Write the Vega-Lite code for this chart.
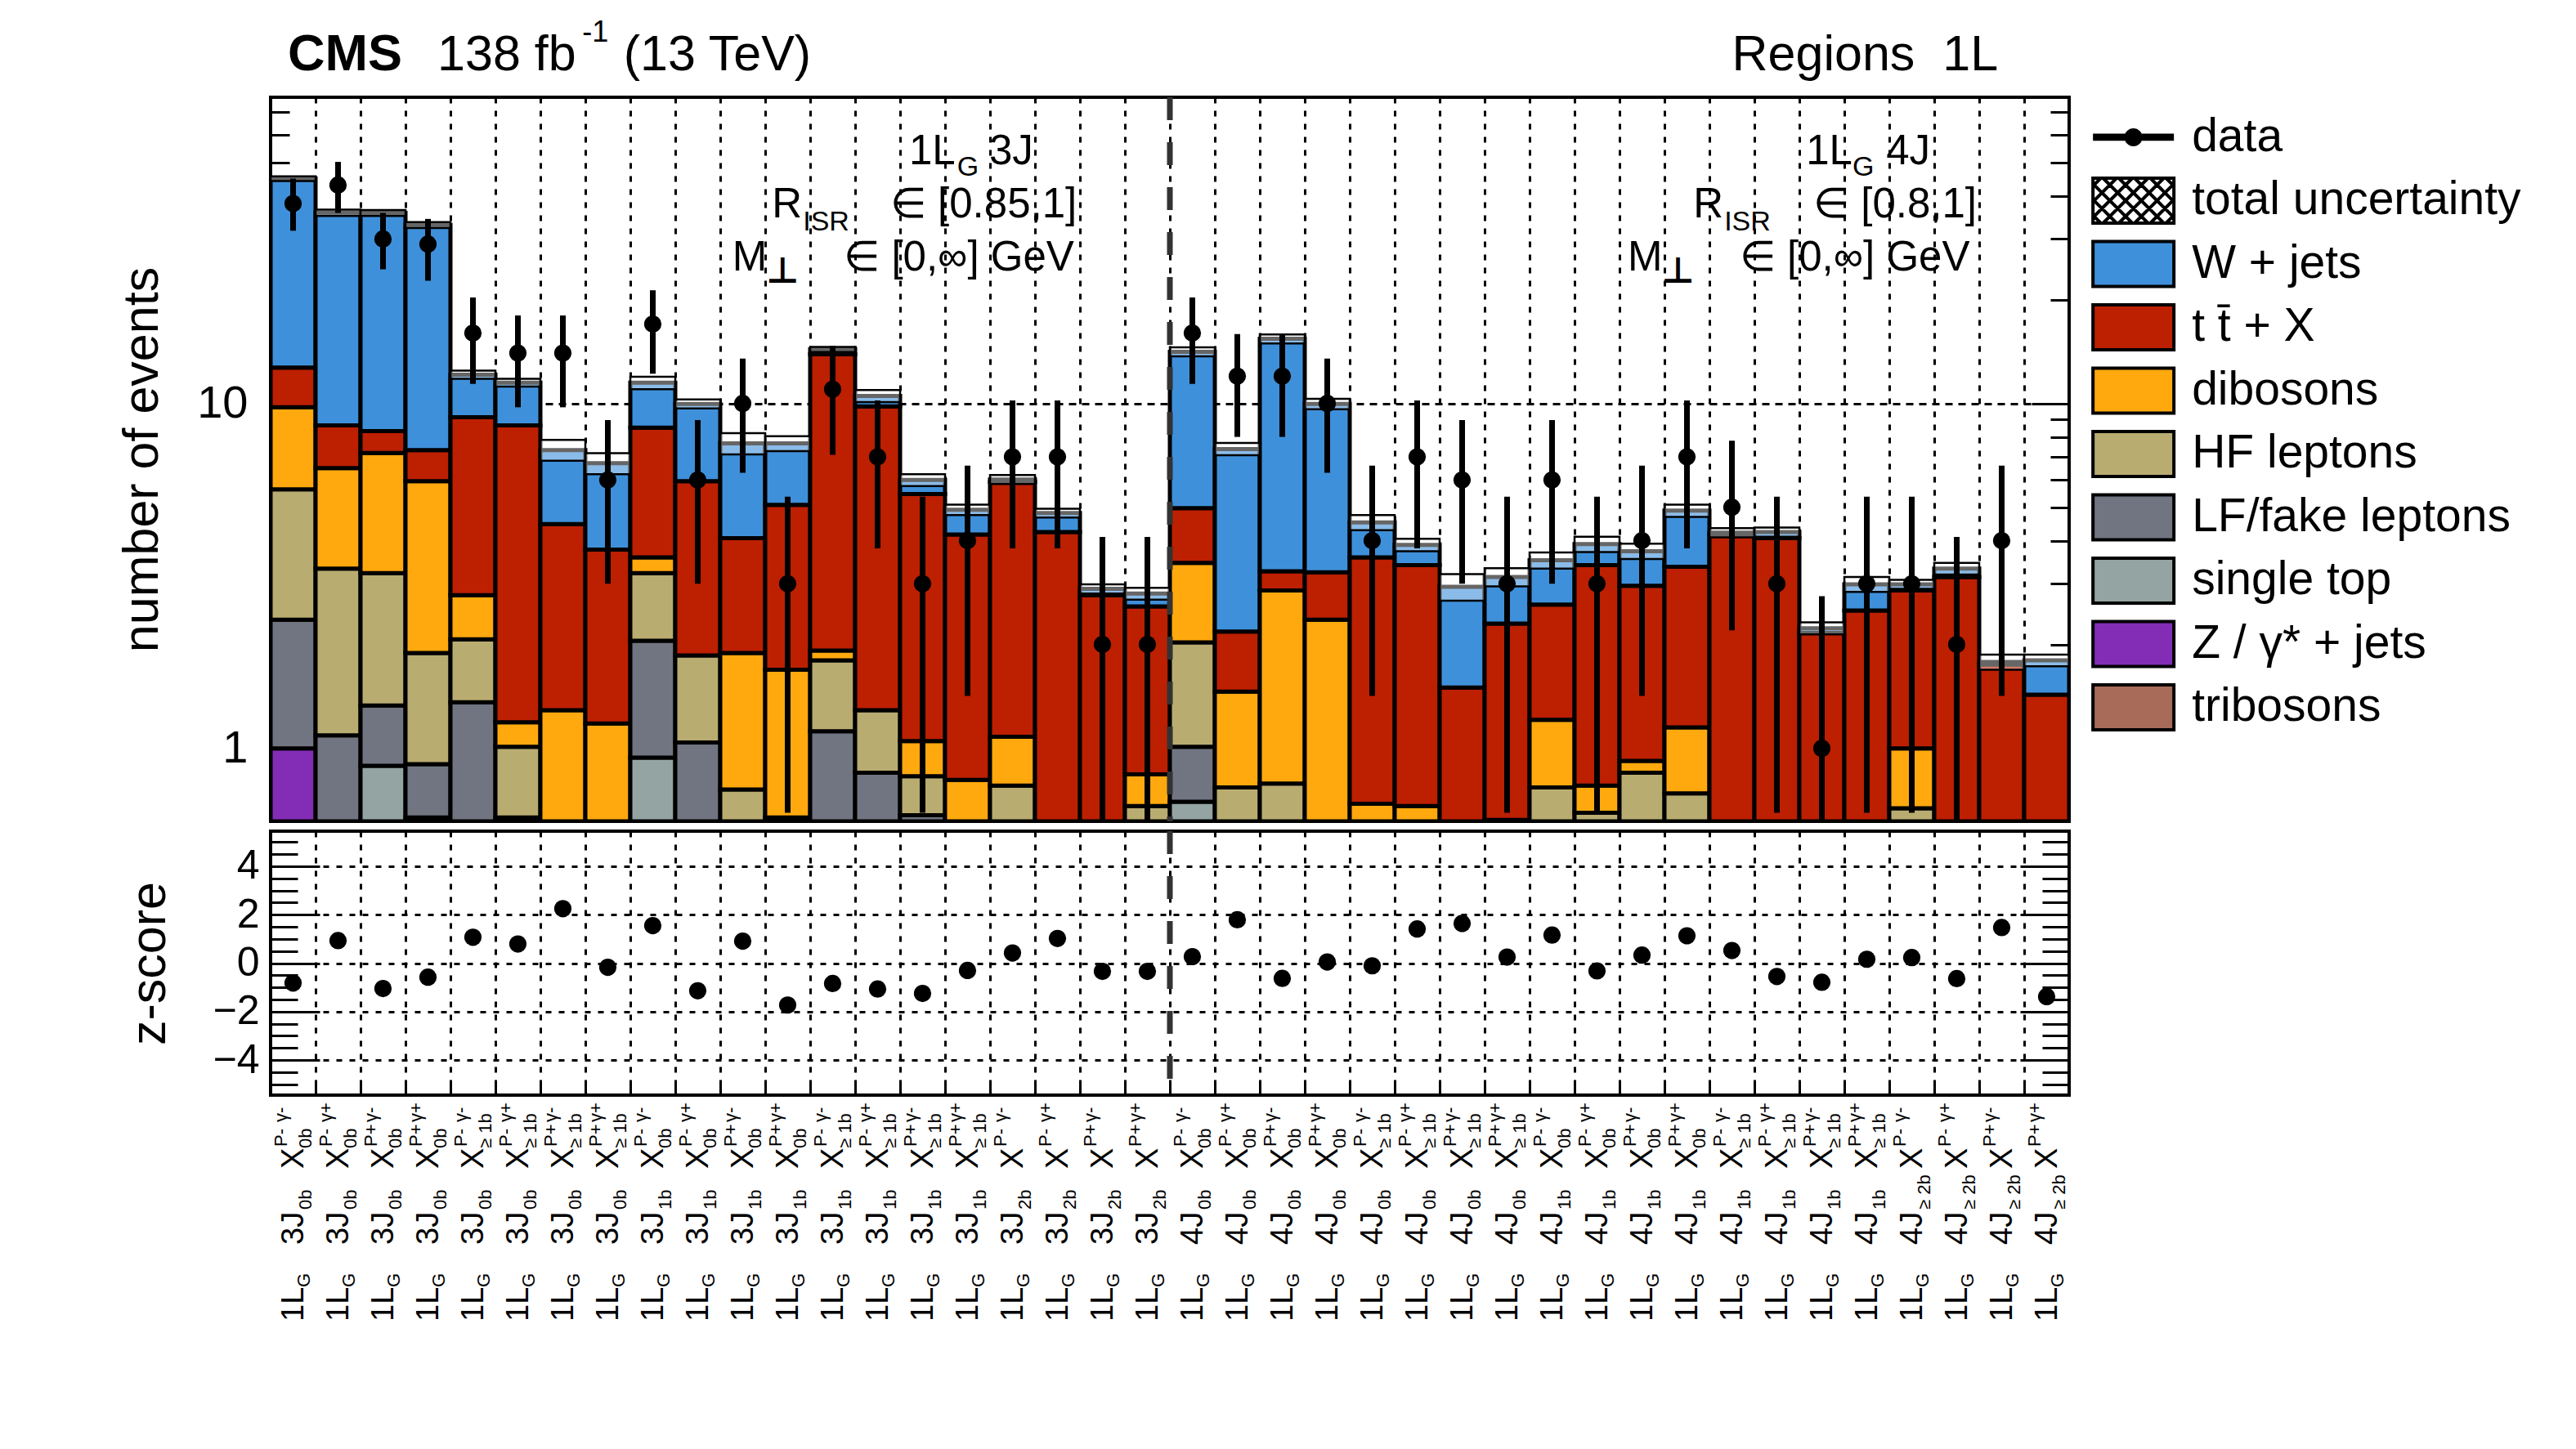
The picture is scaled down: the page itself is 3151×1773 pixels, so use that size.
{
  "$schema": "https://vega.github.io/schema/vega-lite/v6.json",
  "background": "white",
  "padding": {"left": 141, "top": 20, "right": 10, "bottom": 10},
  "datasets": {
    "procs": [
      {"p": "tribosons", "k": 0},
      {"p": "Z / γ* + jets", "k": 1},
      {"p": "single top", "k": 2},
      {"p": "LF/fake leptons", "k": 3},
      {"p": "HF leptons", "k": 4},
      {"p": "dibosons", "k": 5},
      {"p": "t t̄ + X", "k": 6},
      {"p": "W + jets", "k": 7}
    ],
    "leg": [
      {"lab": "data"}, {"lab": "total uncertainty"}, {"lab": "W + jets"}, {"lab": "t t̄ + X"}, {"lab": "dibosons"},
      {"lab": "HF leptons"}, {"lab": "LF/fake leptons"}, {"lab": "single top"}, {"lab": "Z / γ* + jets"}, {"lab": "tribosons"}
    ],
    "bkg": [
      {"b": 1, "p": "Z / γ* + jets", "v": 1.0}, {"b": 1, "p": "LF/fake leptons", "v": 1.36}, {"b": 1, "p": "HF leptons", "v": 3.28}, {"b": 1, "p": "dibosons", "v": 4.11}, {"b": 1, "p": "t t̄ + X", "v": 2.97}, {"b": 1, "p": "W + jets", "v": 32.2},
      {"b": 2, "p": "LF/fake leptons", "v": 1.09}, {"b": 2, "p": "HF leptons", "v": 2.23}, {"b": 2, "p": "dibosons", "v": 3.18}, {"b": 2, "p": "t t̄ + X", "v": 2.14}, {"b": 2, "p": "W + jets", "v": 27.1},
      {"b": 3, "p": "single top", "v": 0.89}, {"b": 3, "p": "LF/fake leptons", "v": 0.44}, {"b": 3, "p": "HF leptons", "v": 1.89}, {"b": 3, "p": "dibosons", "v": 3.97}, {"b": 3, "p": "t t̄ + X", "v": 1.13}, {"b": 3, "p": "W + jets", "v": 27.4},
      {"b": 4, "p": "single top", "v": 0.63}, {"b": 4, "p": "LF/fake leptons", "v": 0.27}, {"b": 4, "p": "HF leptons", "v": 0.99}, {"b": 4, "p": "dibosons", "v": 4.06}, {"b": 4, "p": "t t̄ + X", "v": 1.38}, {"b": 4, "p": "W + jets", "v": 25.6},
      {"b": 5, "p": "LF/fake leptons", "v": 1.36}, {"b": 5, "p": "HF leptons", "v": 0.71}, {"b": 5, "p": "dibosons", "v": 0.71}, {"b": 5, "p": "t t̄ + X", "v": 6.34}, {"b": 5, "p": "W + jets", "v": 3.0},
      {"b": 6, "p": "LF/fake leptons", "v": 0.63}, {"b": 6, "p": "HF leptons", "v": 0.38}, {"b": 6, "p": "dibosons", "v": 0.18}, {"b": 6, "p": "t t̄ + X", "v": 7.45}, {"b": 6, "p": "W + jets", "v": 2.85},
      {"b": 7, "p": "dibosons", "v": 1.29}, {"b": 7, "p": "t t̄ + X", "v": 3.18}, {"b": 7, "p": "W + jets", "v": 2.86},
      {"b": 8, "p": "dibosons", "v": 1.18}, {"b": 8, "p": "t t̄ + X", "v": 2.59}, {"b": 8, "p": "W + jets", "v": 2.94},
      {"b": 9, "p": "single top", "v": 0.94}, {"b": 9, "p": "LF/fake leptons", "v": 1.11}, {"b": 9, "p": "HF leptons", "v": 1.17}, {"b": 9, "p": "dibosons", "v": 0.36}, {"b": 9, "p": "t t̄ + X", "v": 4.93}, {"b": 9, "p": "W + jets", "v": 2.98},
      {"b": 10, "p": "LF/fake leptons", "v": 1.04}, {"b": 10, "p": "HF leptons", "v": 0.82}, {"b": 10, "p": "t t̄ + X", "v": 4.09}, {"b": 10, "p": "W + jets", "v": 4.02},
      {"b": 11, "p": "HF leptons", "v": 0.76}, {"b": 11, "p": "dibosons", "v": 1.13}, {"b": 11, "p": "t t̄ + X", "v": 2.18}, {"b": 11, "p": "W + jets", "v": 3.59},
      {"b": 12, "p": "HF leptons", "v": 0.63}, {"b": 12, "p": "dibosons", "v": 1.06}, {"b": 12, "p": "t t̄ + X", "v": 3.39}, {"b": 12, "p": "W + jets", "v": 2.58},
      {"b": 13, "p": "LF/fake leptons", "v": 1.12}, {"b": 13, "p": "HF leptons", "v": 0.68}, {"b": 13, "p": "dibosons", "v": 0.12}, {"b": 13, "p": "t t̄ + X", "v": 11.98}, {"b": 13, "p": "W + jets", "v": 0.45},
      {"b": 14, "p": "LF/fake leptons", "v": 0.85}, {"b": 14, "p": "HF leptons", "v": 0.44}, {"b": 14, "p": "t t̄ + X", "v": 8.52}, {"b": 14, "p": "W + jets", "v": 0.71},
      {"b": 15, "p": "LF/fake leptons", "v": 0.64}, {"b": 15, "p": "HF leptons", "v": 0.19}, {"b": 15, "p": "dibosons", "v": 0.22}, {"b": 15, "p": "t t̄ + X", "v": 4.41}, {"b": 15, "p": "W + jets", "v": 0.54},
      {"b": 16, "p": "dibosons", "v": 0.81}, {"b": 16, "p": "t t̄ + X", "v": 3.36}, {"b": 16, "p": "W + jets", "v": 0.75},
      {"b": 17, "p": "HF leptons", "v": 0.78}, {"b": 17, "p": "dibosons", "v": 0.30}, {"b": 17, "p": "t t̄ + X", "v": 4.84}, {"b": 17, "p": "W + jets", "v": 0.10},
      {"b": 18, "p": "t t̄ + X", "v": 4.24}, {"b": 18, "p": "W + jets", "v": 0.57},
      {"b": 19, "p": "t t̄ + X", "v": 2.78}, {"b": 19, "p": "W + jets", "v": 0.12},
      {"b": 20, "p": "HF leptons", "v": 0.68}, {"b": 20, "p": "dibosons", "v": 0.16}, {"b": 20, "p": "t t̄ + X", "v": 1.74}, {"b": 20, "p": "W + jets", "v": 0.23},
      {"b": 21, "p": "single top", "v": 0.70}, {"b": 21, "p": "LF/fake leptons", "v": 0.31}, {"b": 21, "p": "HF leptons", "v": 1.02}, {"b": 21, "p": "dibosons", "v": 1.42}, {"b": 21, "p": "t t̄ + X", "v": 1.52}, {"b": 21, "p": "W + jets", "v": 9.16},
      {"b": 22, "p": "HF leptons", "v": 0.77}, {"b": 22, "p": "dibosons", "v": 0.69}, {"b": 22, "p": "t t̄ + X", "v": 0.72}, {"b": 22, "p": "W + jets", "v": 5.2},
      {"b": 23, "p": "HF leptons", "v": 0.79}, {"b": 23, "p": "dibosons", "v": 2.08}, {"b": 23, "p": "t t̄ + X", "v": 0.39}, {"b": 23, "p": "W + jets", "v": 12.14},
      {"b": 24, "p": "dibosons", "v": 2.36}, {"b": 24, "p": "t t̄ + X", "v": 0.88}, {"b": 24, "p": "W + jets", "v": 6.73},
      {"b": 25, "p": "dibosons", "v": 0.69}, {"b": 25, "p": "t t̄ + X", "v": 2.89}, {"b": 25, "p": "W + jets", "v": 0.94},
      {"b": 26, "p": "dibosons", "v": 0.68}, {"b": 26, "p": "t t̄ + X", "v": 2.72}, {"b": 26, "p": "W + jets", "v": 0.49},
      {"b": 27, "p": "t t̄ + X", "v": 1.50}, {"b": 27, "p": "W + jets", "v": 1.44},
      {"b": 28, "p": "dibosons", "v": 0.62}, {"b": 28, "p": "t t̄ + X", "v": 1.68}, {"b": 28, "p": "W + jets", "v": 0.84},
      {"b": 29, "p": "HF leptons", "v": 0.77}, {"b": 29, "p": "dibosons", "v": 0.44}, {"b": 29, "p": "t t̄ + X", "v": 1.40}, {"b": 29, "p": "W + jets", "v": 0.90},
      {"b": 30, "p": "HF leptons", "v": 0.65}, {"b": 30, "p": "dibosons", "v": 0.13}, {"b": 30, "p": "t t̄ + X", "v": 2.62}, {"b": 30, "p": "W + jets", "v": 0.51},
      {"b": 31, "p": "HF leptons", "v": 0.85}, {"b": 31, "p": "dibosons", "v": 0.07}, {"b": 31, "p": "t t̄ + X", "v": 2.04}, {"b": 31, "p": "W + jets", "v": 0.77},
      {"b": 32, "p": "HF leptons", "v": 0.74}, {"b": 32, "p": "dibosons", "v": 0.41}, {"b": 32, "p": "t t̄ + X", "v": 2.21}, {"b": 32, "p": "W + jets", "v": 1.53},
      {"b": 33, "p": "t t̄ + X", "v": 4.17}, {"b": 33, "p": "W + jets", "v": 0.05},
      {"b": 34, "p": "t t̄ + X", "v": 4.07}, {"b": 34, "p": "W + jets", "v": 0.17},
      {"b": 35, "p": "t t̄ + X", "v": 2.16}, {"b": 35, "p": "W + jets", "v": 0.07},
      {"b": 36, "p": "t t̄ + X", "v": 2.51}, {"b": 36, "p": "W + jets", "v": 0.48},
      {"b": 37, "p": "HF leptons", "v": 0.67}, {"b": 37, "p": "dibosons", "v": 0.33}, {"b": 37, "p": "t t̄ + X", "v": 1.87}, {"b": 37, "p": "W + jets", "v": 0.12},
      {"b": 38, "p": "t t̄ + X", "v": 3.14}, {"b": 38, "p": "W + jets", "v": 0.18},
      {"b": 39, "p": "t t̄ + X", "v": 1.75}, {"b": 39, "p": "W + jets", "v": 0.03},
      {"b": 40, "p": "t t̄ + X", "v": 1.43}, {"b": 40, "p": "W + jets", "v": 0.37}
    ],
    "bins": [
      {"b": 1, "n": 38, "lo": 31.7, "hi": 44.9, "uLo": 44.2, "uHi": 45.6, "z": -0.82, "jet": "3J", "jb": "0b", "xb": "0b", "pp": "P-", "g": "γ-"},
      {"b": 2, "n": 43, "lo": 35.7, "hi": 50.2, "uLo": 35.0, "uHi": 36.5, "z": 0.93, "jet": "3J", "jb": "0b", "xb": "0b", "pp": "P-", "g": "γ+"},
      {"b": 3, "n": 30, "lo": 24.5, "hi": 35.7, "uLo": 35.0, "uHi": 36.4, "z": -1.05, "jet": "3J", "jb": "0b", "xb": "0b", "pp": "P+", "g": "γ-"},
      {"b": 4, "n": 29, "lo": 22.7, "hi": 34.3, "uLo": 32.3, "uHi": 33.6, "z": -0.58, "jet": "3J", "jb": "0b", "xb": "0b", "pp": "P+", "g": "γ+"},
      {"b": 5, "n": 16, "lo": 11.4, "hi": 20.3, "uLo": 11.8, "uHi": 12.45, "z": 1.07, "jet": "3J", "jb": "0b", "xb": "≥ 1b", "pp": "P-", "g": "γ-"},
      {"b": 6, "n": 14, "lo": 9.75, "hi": 18.0, "uLo": 11.2, "uHi": 11.8, "z": 0.79, "jet": "3J", "jb": "0b", "xb": "≥ 1b", "pp": "P-", "g": "γ+"},
      {"b": 7, "n": 14, "lo": 9.75, "hi": 18.0, "uLo": 6.82, "uHi": 7.84, "z": 2.25, "jet": "3J", "jb": "0b", "xb": "≥ 1b", "pp": "P+", "g": "γ-"},
      {"b": 8, "n": 6, "lo": 3.0, "hi": 8.95, "uLo": 6.24, "uHi": 7.18, "z": -0.17, "jet": "3J", "jb": "0b", "xb": "≥ 1b", "pp": "P+", "g": "γ+"},
      {"b": 9, "n": 17, "lo": 12.2, "hi": 21.3, "uLo": 11.0, "uHi": 11.95, "z": 1.55, "jet": "3J", "jb": "1b", "xb": "0b", "pp": "P-", "g": "γ-"},
      {"b": 10, "n": 6, "lo": 3.0, "hi": 8.95, "uLo": 9.67, "uHi": 10.27, "z": -1.14, "jet": "3J", "jb": "1b", "xb": "0b", "pp": "P-", "g": "γ+"},
      {"b": 11, "n": 10, "lo": 6.3, "hi": 13.5, "uLo": 7.12, "uHi": 8.2, "z": 0.91, "jet": "3J", "jb": "1b", "xb": "0b", "pp": "P+", "g": "γ-"},
      {"b": 12, "n": 3, "lo": 0.65, "hi": 5.37, "uLo": 7.28, "uHi": 8.04, "z": -1.73, "jet": "3J", "jb": "1b", "xb": "0b", "pp": "P+", "g": "γ+"},
      {"b": 13, "n": 11, "lo": 7.1, "hi": 14.7, "uLo": 14.1, "uHi": 14.6, "z": -0.84, "jet": "3J", "jb": "1b", "xb": "≥ 1b", "pp": "P-", "g": "γ-"},
      {"b": 14, "n": 7, "lo": 3.8, "hi": 10.2, "uLo": 10.1, "uHi": 10.94, "z": -1.07, "jet": "3J", "jb": "1b", "xb": "≥ 1b", "pp": "P-", "g": "γ+"},
      {"b": 15, "n": 3, "lo": 0.65, "hi": 5.37, "uLo": 5.76, "uHi": 6.24, "z": -1.25, "jet": "3J", "jb": "1b", "xb": "≥ 1b", "pp": "P+", "g": "γ-"},
      {"b": 16, "n": 4, "lo": 1.42, "hi": 6.6, "uLo": 4.75, "uHi": 5.09, "z": -0.30, "jet": "3J", "jb": "1b", "xb": "≥ 1b", "pp": "P+", "g": "γ+"},
      {"b": 17, "n": 7, "lo": 3.8, "hi": 10.2, "uLo": 5.84, "uHi": 6.2, "z": 0.42, "jet": "3J", "jb": "2b", "xb": "", "pp": "P-", "g": "γ-"},
      {"b": 18, "n": 7, "lo": 3.8, "hi": 10.2, "uLo": 4.67, "uHi": 4.95, "z": 1.02, "jet": "3J", "jb": "2b", "xb": "", "pp": "P-", "g": "γ+"},
      {"b": 19, "n": 2, "lo": 0.6, "hi": 4.1, "uLo": 2.81, "uHi": 2.99, "z": -0.34, "jet": "3J", "jb": "2b", "xb": "", "pp": "P+", "g": "γ-"},
      {"b": 20, "n": 2, "lo": 0.6, "hi": 4.1, "uLo": 2.70, "uHi": 2.92, "z": -0.34, "jet": "3J", "jb": "2b", "xb": "", "pp": "P+", "g": "γ+"},
      {"b": 21, "n": 16, "lo": 11.4, "hi": 20.3, "uLo": 13.7, "uHi": 14.55, "z": 0.27, "jet": "4J", "jb": "0b", "xb": "0b", "pp": "P-", "g": "γ-"},
      {"b": 22, "n": 12, "lo": 8.0, "hi": 15.9, "uLo": 7.08, "uHi": 7.68, "z": 1.79, "jet": "4J", "jb": "0b", "xb": "0b", "pp": "P-", "g": "γ+"},
      {"b": 23, "n": 12, "lo": 8.0, "hi": 15.9, "uLo": 14.94, "uHi": 15.86, "z": -0.63, "jet": "4J", "jb": "0b", "xb": "0b", "pp": "P+", "g": "γ-"},
      {"b": 24, "n": 10, "lo": 6.3, "hi": 13.5, "uLo": 9.62, "uHi": 10.32, "z": 0.05, "jet": "4J", "jb": "0b", "xb": "0b", "pp": "P+", "g": "γ+"},
      {"b": 25, "n": 4, "lo": 1.42, "hi": 6.6, "uLo": 4.29, "uHi": 4.75, "z": -0.11, "jet": "4J", "jb": "0b", "xb": "≥ 1b", "pp": "P-", "g": "γ-"},
      {"b": 26, "n": 7, "lo": 3.8, "hi": 10.2, "uLo": 3.73, "uHi": 4.05, "z": 1.41, "jet": "4J", "jb": "0b", "xb": "≥ 1b", "pp": "P-", "g": "γ+"},
      {"b": 27, "n": 6, "lo": 3.0, "hi": 8.95, "uLo": 2.68, "uHi": 3.2, "z": 1.64, "jet": "4J", "jb": "0b", "xb": "≥ 1b", "pp": "P+", "g": "γ-"},
      {"b": 28, "n": 3, "lo": 0.65, "hi": 5.37, "uLo": 2.95, "uHi": 3.33, "z": 0.25, "jet": "4J", "jb": "0b", "xb": "≥ 1b", "pp": "P+", "g": "γ+"},
      {"b": 29, "n": 6, "lo": 3.0, "hi": 8.95, "uLo": 3.32, "uHi": 3.7, "z": 1.16, "jet": "4J", "jb": "1b", "xb": "0b", "pp": "P-", "g": "γ-"},
      {"b": 30, "n": 3, "lo": 0.65, "hi": 5.37, "uLo": 3.71, "uHi": 4.11, "z": -0.32, "jet": "4J", "jb": "1b", "xb": "0b", "pp": "P-", "g": "γ+"},
      {"b": 31, "n": 4, "lo": 1.42, "hi": 6.6, "uLo": 3.54, "uHi": 3.92, "z": 0.33, "jet": "4J", "jb": "1b", "xb": "0b", "pp": "P+", "g": "γ-"},
      {"b": 32, "n": 7, "lo": 3.8, "hi": 10.2, "uLo": 4.69, "uHi": 5.09, "z": 1.13, "jet": "4J", "jb": "1b", "xb": "0b", "pp": "P+", "g": "γ+"},
      {"b": 33, "n": 5, "lo": 2.2, "hi": 7.8, "uLo": 4.09, "uHi": 4.35, "z": 0.52, "jet": "4J", "jb": "1b", "xb": "≥ 1b", "pp": "P-", "g": "γ-"},
      {"b": 34, "n": 3, "lo": 0.65, "hi": 5.37, "uLo": 4.11, "uHi": 4.37, "z": -0.55, "jet": "4J", "jb": "1b", "xb": "≥ 1b", "pp": "P-", "g": "γ+"},
      {"b": 35, "n": 1, "lo": 0.6, "hi": 2.76, "uLo": 2.14, "uHi": 2.32, "z": -0.79, "jet": "4J", "jb": "1b", "xb": "≥ 1b", "pp": "P+", "g": "γ-"},
      {"b": 36, "n": 3, "lo": 0.65, "hi": 5.37, "uLo": 2.84, "uHi": 3.14, "z": 0.16, "jet": "4J", "jb": "1b", "xb": "≥ 1b", "pp": "P+", "g": "γ+"},
      {"b": 37, "n": 3, "lo": 0.65, "hi": 5.37, "uLo": 2.9, "uHi": 3.08, "z": 0.23, "jet": "4J", "jb": "≥ 2b", "xb": "", "pp": "P-", "g": "γ-"},
      {"b": 38, "n": 2, "lo": 0.6, "hi": 4.1, "uLo": 3.19, "uHi": 3.45, "z": -0.64, "jet": "4J", "jb": "≥ 2b", "xb": "", "pp": "P-", "g": "γ+"},
      {"b": 39, "n": 4, "lo": 1.42, "hi": 6.6, "uLo": 1.69, "uHi": 1.87, "z": 1.47, "jet": "4J", "jb": "≥ 2b", "xb": "", "pp": "P+", "g": "γ-"},
      {"b": 40, "n": 0, "lo": 0, "hi": 0, "uLo": 1.73, "uHi": 1.87, "z": -1.38, "jet": "4J", "jb": "≥ 2b", "xb": "", "pp": "P+", "g": "γ+"}
    ],
    "ann": [
      {"k": "cms", "ax": 0.38, "ay": 92.7, "t": "CMS"},
      {"k": "head", "ax": 3.71, "ay": 92.7, "t": "138 fb"},
      {"k": "sup", "ax": 6.93, "ay": 111.9, "t": "-1"},
      {"k": "head", "ax": 7.85, "ay": 92.7, "t": "(13 TeV)"},
      {"k": "head", "ax": 32.5, "ay": 92.7, "t": "Regions\u00a0\u00a01L"},
      {"k": "main", "ax": 14.2, "ay": 49.4, "t": "1L"},
      {"k": "sub", "ax": 15.27, "ay": 45.7, "t": "G"},
      {"k": "main", "ax": 15.98, "ay": 49.4, "t": "3J"},
      {"k": "main", "ax": 11.15, "ay": 34.6, "t": "R"},
      {"k": "sub", "ax": 11.84, "ay": 31.7, "t": "ISR"},
      {"k": "main", "ax": 13.78, "ay": 34.6, "t": "∈ [0.85,1]"},
      {"k": "main", "ax": 10.27, "ay": 24.3, "t": "M"},
      {"k": "perp", "ax": 11.02, "ay": 22.4, "t": "⊥"},
      {"k": "main", "ax": 12.75, "ay": 24.3, "t": "∈ [0,∞] GeV"},
      {"k": "main", "ax": 34.15, "ay": 49.4, "t": "1L"},
      {"k": "sub", "ax": 35.18, "ay": 45.7, "t": "G"},
      {"k": "main", "ax": 35.93, "ay": 49.4, "t": "4J"},
      {"k": "main", "ax": 31.64, "ay": 34.6, "t": "R"},
      {"k": "sub", "ax": 32.33, "ay": 31.7, "t": "ISR"},
      {"k": "main", "ax": 34.31, "ay": 34.6, "t": "∈ [0.8,1]"},
      {"k": "main", "ax": 30.18, "ay": 24.3, "t": "M"},
      {"k": "perp", "ax": 30.93, "ay": 22.4, "t": "⊥"},
      {"k": "main", "ax": 32.67, "ay": 24.3, "t": "∈ [0,∞] GeV"}
    ]
  },
  "vconcat": [
    {
      "width": 2200,
      "height": 886,
      "layer": [
        {
          "layer": [
            {
              "data": {"name": "bkg"},
              "transform": [
                {"lookup": "p", "from": {"data": {"name": "procs"}, "key": "p", "fields": ["k"]}},
                {"stack": "v", "groupby": ["b"], "sort": [{"field": "k", "order": "ascending"}], "as": ["y0", "y1"]}
              ],
              "mark": {"type": "bar", "stroke": "#000000", "strokeWidth": 5, "strokeOpacity": 1, "clip": true},
              "encoding": {
                "x": {
                  "field": "b", "type": "ordinal",
                  "scale": {"paddingInner": 0, "paddingOuter": 0},
                  "axis": {"title": null, "labels": false, "ticks": false, "domain": false, "grid": true, "gridDash": [7, 9], "gridColor": "black", "gridWidth": 3, "bandPosition": 0}
                },
                "y": {
                  "field": "y1", "type": "quantitative",
                  "scale": {"type": "log", "domain": [0.614, 77.3], "nice": false, "clamp": true},
                  "axis": {
                    "orient": "left",
                    "values": [0.7, 0.8, 0.9, 1, 2, 3, 4, 5, 6, 7, 8, 9, 10, 20, 30, 40, 50, 60, 70],
                    "labelExpr": "datum.value == 1 ? '1' : datum.value == 10 ? '10' : ''",
                    "tickSize": {"condition": {"test": "datum.value == 1 || datum.value == 10", "value": -46}, "value": -23},
                    "tickWidth": 3,
                    "grid": true, "gridDash": [9, 7], "gridColor": "black", "gridWidth": 3,
                    "gridOpacity": {"condition": {"test": "datum.value == 1 || datum.value == 10", "value": 1}, "value": 0},
                    "labelFontSize": 56, "labelPadding": 74,
                    "title": "number of events", "titleFontSize": 61, "titlePadding": 35
                  }
                },
                "y2": {"field": "y0"},
                "color": {
                  "field": "p", "type": "nominal",
                  "scale": {
                    "domain": ["data", "total uncertainty", "W + jets", "t t̄ + X", "dibosons", "HF leptons", "LF/fake leptons", "single top", "Z / γ* + jets", "tribosons"],
                    "range": ["#000000", "#ffffff", "#3f90da", "#bd1f01", "#ffa90e", "#b9ac70", "#717581", "#94a4a2", "#832db6", "#a96b59"]
                  },
                  "legend": null
                }
              }
            },
            {
              "data": {"name": "bins"},
              "mark": {"type": "bar", "fill": "white", "fillOpacity": 0.4, "stroke": "black", "strokeWidth": 2.5, "clip": true},
              "encoding": {
                "x": {"field": "b", "type": "ordinal"},
                "y": {
                  "field": "uLo", "type": "quantitative",
                  "axis": {
                    "orient": "right",
                    "values": [0.7, 0.8, 0.9, 1, 2, 3, 4, 5, 6, 7, 8, 9, 10, 20, 30, 40, 50, 60, 70],
                    "labels": false, "title": null, "grid": false,
                    "tickSize": {"condition": {"test": "datum.value == 1 || datum.value == 10", "value": -46}, "value": -23},
                    "tickWidth": 3
                  }
                },
                "y2": {"field": "uHi"}
              }
            },
            {
              "data": {"name": "bins"},
              "transform": [{"filter": "datum.n > 0"}],
              "mark": {"type": "rule", "color": "black", "strokeWidth": 7, "clip": true},
              "encoding": {
                "x": {"field": "b", "type": "ordinal"},
                "y": {"field": "lo", "type": "quantitative", "axis": null},
                "y2": {"field": "hi"}
              }
            },
            {
              "data": {"name": "bins"},
              "transform": [{"filter": "datum.n > 0"}],
              "mark": {"type": "point", "filled": true, "color": "black", "size": 450, "opacity": 1},
              "encoding": {
                "x": {"field": "b", "type": "ordinal"},
                "y": {"field": "n", "type": "quantitative", "axis": null}
              }
            },
            {
              "data": {"values": [{"b": 21}]},
              "mark": {"type": "rule", "color": "#333333", "strokeWidth": 7, "strokeDash": [28, 27]},
              "encoding": {
                "x": {"field": "b", "type": "ordinal", "bandPosition": 0}
              }
            }
          ],
          "resolve": {"axis": {"y": "independent"}}
        },
        {
          "data": {"name": "ann"},
          "transform": [{"filter": "datum.k == 'cms'"}],
          "mark": {"type": "text", "align": "left", "baseline": "alphabetic", "fontSize": 63, "fontWeight": "bold", "color": "black"},
          "encoding": {
            "x": {"field": "ax", "type": "quantitative", "scale": {"domain": [0, 40], "nice": false, "zero": false}, "axis": null},
            "y": {"field": "ay", "type": "quantitative", "scale": {"type": "log", "domain": [0.614, 77.3], "nice": false}, "axis": null},
            "text": {"field": "t"}
          }
        },
        {
          "data": {"name": "ann"},
          "transform": [{"filter": "datum.k == 'head'"}],
          "mark": {"type": "text", "align": "left", "baseline": "alphabetic", "fontSize": 61, "color": "black"},
          "encoding": {
            "x": {"field": "ax", "type": "quantitative", "scale": {"domain": [0, 40], "nice": false, "zero": false}, "axis": null},
            "y": {"field": "ay", "type": "quantitative", "scale": {"type": "log", "domain": [0.614, 77.3], "nice": false}, "axis": null},
            "text": {"field": "t"}
          }
        },
        {
          "data": {"name": "ann"},
          "transform": [{"filter": "datum.k == 'sup'"}],
          "mark": {"type": "text", "align": "left", "baseline": "alphabetic", "fontSize": 36, "color": "black"},
          "encoding": {
            "x": {"field": "ax", "type": "quantitative", "scale": {"domain": [0, 40], "nice": false, "zero": false}, "axis": null},
            "y": {"field": "ay", "type": "quantitative", "scale": {"type": "log", "domain": [0.614, 77.3], "nice": false}, "axis": null},
            "text": {"field": "t"}
          }
        },
        {
          "data": {"name": "ann"},
          "transform": [{"filter": "datum.k == 'main'"}],
          "mark": {"type": "text", "align": "left", "baseline": "alphabetic", "fontSize": 51, "color": "black"},
          "encoding": {
            "x": {"field": "ax", "type": "quantitative", "scale": {"domain": [0, 40], "nice": false, "zero": false}, "axis": null},
            "y": {"field": "ay", "type": "quantitative", "scale": {"type": "log", "domain": [0.614, 77.3], "nice": false}, "axis": null},
            "text": {"field": "t"}
          }
        },
        {
          "data": {"name": "ann"},
          "transform": [{"filter": "datum.k == 'sub'"}],
          "mark": {"type": "text", "align": "left", "baseline": "alphabetic", "fontSize": 34, "color": "black"},
          "encoding": {
            "x": {"field": "ax", "type": "quantitative", "scale": {"domain": [0, 40], "nice": false, "zero": false}, "axis": null},
            "y": {"field": "ay", "type": "quantitative", "scale": {"type": "log", "domain": [0.614, 77.3], "nice": false}, "axis": null},
            "text": {"field": "t"}
          }
        },
        {
          "data": {"name": "ann"},
          "transform": [{"filter": "datum.k == 'perp'"}],
          "mark": {"type": "text", "align": "left", "baseline": "alphabetic", "fontSize": 44, "fontWeight": "bold", "font": "DejaVu Sans", "color": "black"},
          "encoding": {
            "x": {"field": "ax", "type": "quantitative", "scale": {"domain": [0, 40], "nice": false, "zero": false}, "axis": null},
            "y": {"field": "ay", "type": "quantitative", "scale": {"type": "log", "domain": [0.614, 77.3], "nice": false}, "axis": null},
            "text": {"field": "t"}
          }
        },
        {
          "data": {"name": "leg"},
          "mark": {"type": "point", "filled": true, "stroke": "black", "size": 3025, "opacity": 1},
          "encoding": {
            "x": {"datum": 41.43, "type": "quantitative", "scale": {"domain": [0, 40], "nice": false, "zero": false}, "axis": null},
            "y": {"field": "lab", "type": "nominal", "scale": {"type": "band", "domain": ["data", "total uncertainty", "W + jets", "t t̄ + X", "dibosons", "HF leptons", "LF/fake leptons", "single top", "Z / γ* + jets", "tribosons"], "paddingInner": 0, "paddingOuter": 0.716, "align": 0.092}, "axis": null},
            "color": {"field": "lab", "type": "nominal", "legend": null},
            "shape": {
              "field": "lab", "type": "nominal", "legend": null,
              "scale": {
                "domain": ["data", "total uncertainty", "W + jets", "t t̄ + X", "dibosons", "HF leptons", "LF/fake leptons", "single top", "Z / γ* + jets", "tribosons"],
                "range": [
                  "M-1.8,-0.16H1.8V0.16H-1.8Z M-0.4,0A0.4,0.4,0,1,1,0.4,0A0.4,0.4,0,1,1,-0.4,0Z",
                  "M-1.8,-1H1.8V1H-1.8Z M-1.8,0.65L-1.45,1 M-1.8,-0.05L-0.75,1 M-1.8,-0.75L-0.05,1 M-1.35,-1L0.65,1 M-0.65,-1L1.35,1 M0.05,-1L1.8,0.75 M0.75,-1L1.8,0.05 M1.45,-1L1.8,-0.65 M-1.45,-1L-1.8,-0.65 M-0.75,-1L-1.8,0.05 M-0.05,-1L-1.8,0.75 M0.65,-1L-1.35,1 M1.35,-1L-0.65,1 M1.8,-0.75L0.05,1 M1.8,-0.05L0.75,1 M1.8,0.65L1.45,1",
                  "M-1.8,-1H1.8V1H-1.8Z", "M-1.8,-1H1.8V1H-1.8Z", "M-1.8,-1H1.8V1H-1.8Z", "M-1.8,-1H1.8V1H-1.8Z",
                  "M-1.8,-1H1.8V1H-1.8Z", "M-1.8,-1H1.8V1H-1.8Z", "M-1.8,-1H1.8V1H-1.8Z", "M-1.8,-1H1.8V1H-1.8Z"
                ]
              }
            },
            "strokeWidth": {"condition": {"test": "datum.lab == 'data'", "value": 0}, "value": 4}
          }
        },
        {
          "data": {"name": "leg"},
          "mark": {"type": "text", "align": "left", "baseline": "middle", "fontSize": 57, "color": "black"},
          "encoding": {
            "x": {"datum": 42.73, "type": "quantitative", "scale": {"domain": [0, 40], "nice": false, "zero": false}, "axis": null},
            "y": {"field": "lab", "type": "nominal", "scale": {"type": "band", "domain": ["data", "total uncertainty", "W + jets", "t t̄ + X", "dibosons", "HF leptons", "LF/fake leptons", "single top", "Z / γ* + jets", "tribosons"], "paddingInner": 0, "paddingOuter": 0.716, "align": 0.092}, "axis": null},
            "text": {"field": "lab"}
          }
        }
      ],
      "resolve": {"scale": {"x": "independent", "y": "independent"}, "axis": {"x": "independent", "y": "independent"}}
    },
    {
      "width": 2200,
      "height": 323,
      "layer": [
        {
          "data": {"name": "bins"},
          "mark": {"type": "point", "filled": true, "color": "black", "size": 450, "opacity": 1},
          "encoding": {
            "x": {
              "field": "b", "type": "ordinal",
              "scale": {"paddingInner": 0, "paddingOuter": 0},
              "axis": {"title": null, "labels": false, "ticks": true, "tickSize": -18, "tickWidth": 3, "tickColor": "black", "domain": false, "grid": true, "gridDash": [7, 9], "gridColor": "black", "gridWidth": 3, "bandPosition": 0}
            },
            "y": {
              "field": "z", "type": "quantitative",
              "scale": {"domain": [-5.45, 5.45], "nice": false, "zero": false},
              "axis": {
                "orient": "left",
                "values": [-5, -4.5, -4, -3.5, -3, -2.5, -2, -1.5, -1, -0.5, 0, 0.5, 1, 1.5, 2, 2.5, 3, 3.5, 4, 4.5, 5],
                "labelExpr": "datum.value % 2 == 0 && abs(datum.value) <= 4 ? (datum.value < 0 ? '−' + (-datum.value) : '' + datum.value) : ''",
                "tickSize": {"condition": {"test": "datum.value % 2 == 0 && abs(datum.value) <= 4", "value": -60}, "value": -33},
                "tickWidth": 3,
                "grid": true, "gridDash": [7, 9], "gridColor": "black", "gridWidth": 3,
                "gridOpacity": {"condition": {"test": "datum.value % 2 == 0 && abs(datum.value) <= 4", "value": 1}, "value": 0},
                "labelFontSize": 50, "labelPadding": 74,
                "title": "z-score", "titleFontSize": 61, "titlePadding": 45
              }
            }
          }
        },
        {
          "data": {"name": "bins"},
          "mark": {"type": "point", "opacity": 0},
          "encoding": {
            "x": {"field": "b", "type": "ordinal"},
            "y": {
              "field": "z", "type": "quantitative",
              "axis": {
                "orient": "right",
                "values": [-5, -4.5, -4, -3.5, -3, -2.5, -2, -1.5, -1, -0.5, 0, 0.5, 1, 1.5, 2, 2.5, 3, 3.5, 4, 4.5, 5],
                "labels": false, "title": null, "grid": false,
                "tickSize": {"condition": {"test": "datum.value % 2 == 0 && abs(datum.value) <= 4", "value": -60}, "value": -33},
                "tickWidth": 3
              }
            }
          }
        },
        {
          "data": {"values": [{"b": 21}]},
          "mark": {"type": "rule", "color": "#333333", "strokeWidth": 7, "strokeDash": [28, 27]},
          "encoding": {
            "x": {"field": "b", "type": "ordinal", "bandPosition": 0}
          }
        },
        {
          "data": {"name": "bins"},
          "mark": {"type": "text", "angle": 270, "align": "left", "baseline": "alphabetic", "dx": -277, "dy": 12, "fontSize": 38, "color": "black"},
          "encoding": {"x": {"field": "b", "type": "ordinal"}, "y": {"datum": -5.45, "type": "quantitative", "axis": null}, "text": {"value": "1L"}}
        },
        {
          "data": {"name": "bins"},
          "mark": {"type": "text", "angle": 270, "align": "left", "baseline": "alphabetic", "dx": -235, "dy": 20, "fontSize": 22, "color": "black"},
          "encoding": {"x": {"field": "b", "type": "ordinal"}, "y": {"datum": -5.45, "type": "quantitative", "axis": null}, "text": {"value": "G"}}
        },
        {
          "data": {"name": "bins"},
          "mark": {"type": "text", "angle": 270, "align": "left", "baseline": "alphabetic", "dx": -183, "dy": 12, "fontSize": 38, "color": "black"},
          "encoding": {"x": {"field": "b", "type": "ordinal"}, "y": {"datum": -5.45, "type": "quantitative", "axis": null}, "text": {"field": "jet"}}
        },
        {
          "data": {"name": "bins"},
          "mark": {"type": "text", "angle": 270, "align": "left", "baseline": "alphabetic", "dx": -140, "dy": 22, "fontSize": 22, "color": "black"},
          "encoding": {"x": {"field": "b", "type": "ordinal"}, "y": {"datum": -5.45, "type": "quantitative", "axis": null}, "text": {"field": "jb"}}
        },
        {
          "data": {"name": "bins"},
          "mark": {"type": "text", "angle": 270, "align": "left", "baseline": "alphabetic", "dx": -90, "dy": 12, "fontSize": 38, "color": "black"},
          "encoding": {"x": {"field": "b", "type": "ordinal"}, "y": {"datum": -5.45, "type": "quantitative", "axis": null}, "text": {"value": "X"}}
        },
        {
          "data": {"name": "bins"},
          "mark": {"type": "text", "angle": 270, "align": "left", "baseline": "alphabetic", "dx": -65, "dy": 22, "fontSize": 22, "color": "black"},
          "encoding": {"x": {"field": "b", "type": "ordinal"}, "y": {"datum": -5.45, "type": "quantitative", "axis": null}, "text": {"field": "xb"}}
        },
        {
          "data": {"name": "bins"},
          "mark": {"type": "text", "angle": 270, "align": "left", "baseline": "alphabetic", "dx": -63, "dy": -8, "fontSize": 22, "color": "black"},
          "encoding": {"x": {"field": "b", "type": "ordinal"}, "y": {"datum": -5.45, "type": "quantitative", "axis": null}, "text": {"field": "pp"}}
        },
        {
          "data": {"name": "bins"},
          "mark": {"type": "text", "angle": 270, "align": "left", "baseline": "alphabetic", "dx": -33, "dy": -8, "fontSize": 22, "color": "black"},
          "encoding": {"x": {"field": "b", "type": "ordinal"}, "y": {"datum": -5.45, "type": "quantitative", "axis": null}, "text": {"field": "g"}}
        }
      ],
      "resolve": {"axis": {"y": "independent"}}
    }
  ],
  "spacing": 0,
  "config": {
    "font": "Liberation Sans",
    "view": {"stroke": "black", "strokeWidth": 4},
    "axis": {"domain": false, "labelColor": "black", "titleColor": "black", "tickColor": "black", "titleFontWeight": "normal", "labelFont": "Liberation Sans", "titleFont": "Liberation Sans"},
    "text": {"font": "Liberation Sans"}
  }
}
